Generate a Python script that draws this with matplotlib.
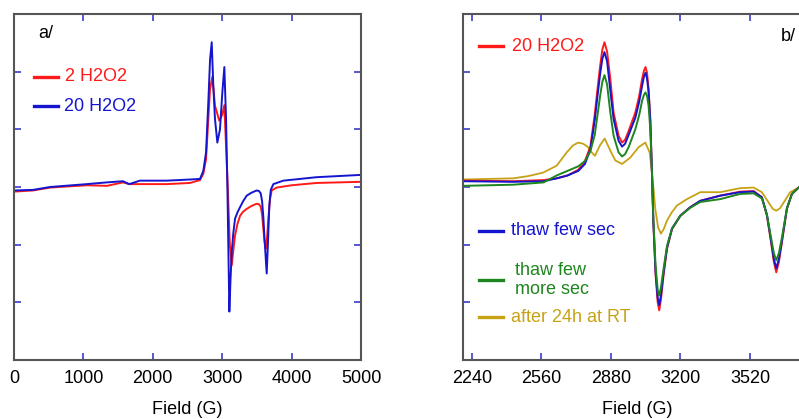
import matplotlib
matplotlib.use('Agg')
import matplotlib.pyplot as plt

plt.rcParams['font.family'] = ['Liberation Sans', 'DejaVu Sans']

# --- panel a/ : 2 vs 20 H2O2 ---
field_a_blue = [0, 275, 520, 1050, 1340, 1570, 1660, 1815, 2200, 2535,
                2680, 2728, 2767, 2800, 2825, 2849, 2872, 2896, 2930, 2968,
                3002, 3031, 3055, 3075, 3103, 3120, 3137, 3160, 3185, 3220,
                3257, 3300, 3353, 3420, 3497, 3530, 3555, 3575, 3593, 3615,
                3641, 3660, 3679, 3700, 3737, 3880, 4360, 5000]
a_20h2o2 = [-0.06, -0.05, 0.0, 0.05, 0.08, 0.10, 0.05, 0.11, 0.11, 0.13,
            0.14, 0.28, 0.60, 1.47, 2.21, 2.51, 1.75, 1.18, 0.77, 1.00,
            1.64, 2.08, 1.20, 0.0, -2.16, -1.60, -1.13, -0.80, -0.55, -0.44,
            -0.35, -0.25, -0.15, -0.10, -0.06, -0.07, -0.11, -0.25, -0.53, -1.00,
            -1.50, -0.95, -0.32, -0.05, 0.05, 0.11, 0.17, 0.21]

field_a_red = [0, 275, 520, 1050, 1340, 1570, 1660, 1815, 2200, 2535,
               2680, 2728, 2767, 2800, 2825, 2858, 2896, 2958, 3000, 3031,
               3055, 3080, 3110, 3137, 3160, 3185, 3220, 3257, 3300, 3353,
               3420, 3497, 3530, 3555, 3575, 3593, 3610, 3631, 3648, 3665,
               3690, 3713, 3785, 4000, 4360, 5000]
a_2h2o2 = [-0.08, -0.06, -0.01, 0.03, 0.02, 0.08, 0.05, 0.05, 0.05, 0.07,
           0.12, 0.23, 0.48, 1.18, 1.70, 1.91, 1.41, 1.15, 1.25, 1.42,
           0.72, 0.0, -1.00, -1.36, -1.10, -0.84, -0.64, -0.50, -0.43, -0.38,
           -0.33, -0.29, -0.30, -0.34, -0.48, -0.73, -0.95, -1.07, -0.85, -0.55,
           -0.20, -0.06, -0.01, 0.03, 0.07, 0.09]

# --- panel b/ : thawing series ---
field_b = [2200, 2430, 2570, 2630, 2680, 2730, 2760, 2785, 2805, 2818,
           2830, 2840, 2850, 2862, 2877, 2892, 2915, 2931, 2945, 2961,
           2992, 3010, 3023, 3032, 3039, 3046, 3053, 3061, 3069, 3075,
           3085, 3095, 3102, 3110, 3122, 3138, 3161, 3199, 3245, 3291,
           3383, 3475, 3537, 3575, 3598, 3617, 3630, 3641, 3653, 3667,
           3690, 3713, 3744, 3800]
b_20h2o2 = [0.11, 0.10, 0.12, 0.15, 0.20, 0.30, 0.45, 0.70, 1.25, 1.70,
            2.10, 2.38, 2.51, 2.35, 1.87, 1.29, 0.89, 0.77, 0.82, 0.97,
            1.29, 1.58, 1.87, 2.02, 2.08, 1.98, 1.70, 1.18, 0.20, -0.60,
            -1.50, -2.00, -2.14, -1.95, -1.53, -1.07, -0.73, -0.50, -0.35, -0.24,
            -0.15, -0.08, -0.07, -0.18, -0.50, -0.96, -1.30, -1.48, -1.30, -0.96,
            -0.38, -0.12, -0.01, 0.05]
b_thaw = [0.10, 0.09, 0.10, 0.15, 0.20, 0.28, 0.40, 0.65, 1.15, 1.58,
          1.96, 2.22, 2.34, 2.18, 1.67, 1.18, 0.80, 0.70, 0.75, 0.90,
          1.20, 1.48, 1.75, 1.92, 1.98, 1.88, 1.65, 1.15, 0.20, -0.60,
          -1.45, -1.92, -2.05, -1.88, -1.48, -1.05, -0.72, -0.50, -0.35, -0.24,
          -0.15, -0.09, -0.08, -0.18, -0.48, -0.93, -1.25, -1.41, -1.25, -0.93,
          -0.37, -0.12, -0.01, 0.05]
b_thaw_more = [0.02, 0.04, 0.08, 0.20, 0.28, 0.36, 0.45, 0.62, 0.90, 1.25,
               1.58, 1.82, 1.94, 1.78, 1.29, 0.89, 0.60, 0.53, 0.57, 0.69,
               1.00, 1.25, 1.49, 1.60, 1.64, 1.58, 1.41, 1.00, 0.20, -0.55,
               -1.35, -1.78, -1.88, -1.74, -1.42, -1.02, -0.72, -0.50, -0.36, -0.26,
               -0.21, -0.12, -0.11, -0.20, -0.48, -0.88, -1.15, -1.27, -1.15, -0.88,
               -0.37, -0.12, -0.01, 0.05]

field_b_rt = [2200, 2430, 2500, 2568, 2630, 2676, 2705, 2729, 2752, 2775,
              2791, 2806, 2829, 2851, 2877, 2900, 2931, 2969, 3007, 3038,
              3058, 3069, 3084, 3097, 3110, 3124, 3138, 3160, 3184, 3230,
              3291, 3383, 3475, 3537, 3575, 3606, 3625, 3641, 3658, 3675,
              3705, 3744, 3800]
b_24h_rt = [0.13, 0.15, 0.19, 0.25, 0.37, 0.60, 0.72, 0.77, 0.75, 0.69,
            0.60, 0.54, 0.72, 0.84, 0.63, 0.46, 0.40, 0.51, 0.69, 0.77,
            0.60, 0.25, -0.38, -0.70, -0.81, -0.72, -0.58, -0.44, -0.32, -0.21,
            -0.09, -0.09, -0.02, -0.01, -0.09, -0.27, -0.38, -0.41, -0.37, -0.27,
            -0.09, -0.01, 0.02]

RED = '#ff1a1a'
BLUE = '#1515d0'
GREEN = '#1e861e'
GOLD = '#c6a214'
FS = 13


def style_axes(ax, xticks):
    ax.set_ylim(-3, 3)
    ax.set_xticks(xticks)
    ax.set_yticks([-2, -1, 0, 1, 2])
    ax.set_yticklabels([])
    ax.tick_params(direction='in', length=5, width=1.3, color='#4a4ad0',
                   top=True, right=True, labelsize=FS, pad=7)
    for s in ax.spines.values():
        s.set_color('#555555')
        s.set_linewidth(1.5)
    ax.set_xlabel('Field (G)', fontsize=FS, labelpad=10)


def key(ax, x0, y, color, label, tx):
    ax.plot([x0, x0 + 0.07], [y, y], color=color, lw=2.4, transform=ax.transAxes,
            clip_on=False)
    ax.text(tx, y, label, color=color, fontsize=FS, va='center', ha='left',
            transform=ax.transAxes)


fig = plt.figure(figsize=(7.99, 4.19), dpi=100)
ax1 = fig.add_axes([14 / 799, 59 / 419, 347 / 799, 346 / 419])
ax2 = fig.add_axes([463.3 / 799, 59 / 419, 347.5 / 799, 346 / 419])

# a/
ax1.plot(field_a_red, a_2h2o2, color=RED, lw=1.4)
ax1.plot(field_a_blue, a_20h2o2, color=BLUE, lw=1.4)
ax1.set_xlim(0, 5000)
style_axes(ax1, [0, 1000, 2000, 3000, 4000, 5000])
ax1.text(0.069, 0.945, 'a/', fontsize=FS, va='center', transform=ax1.transAxes)
key(ax1, 0.058, 0.818, RED, '2 H2O2', 0.147)
key(ax1, 0.058, 0.734, BLUE, '20 H2O2', 0.144)

# b/
ax2.plot(field_b_rt, b_24h_rt, color=GOLD, lw=1.3)
ax2.plot(field_b, b_20h2o2, color=RED, lw=1.4)
ax2.plot(field_b, b_thaw, color=BLUE, lw=1.4)
ax2.plot(field_b, b_thaw_more, color=GREEN, lw=1.4)
ax2.set_xlim(2200, 3800)
style_axes(ax2, [2240, 2560, 2880, 3200, 3520])
ax2.text(0.914, 0.934, 'b/', fontsize=FS, va='center', transform=ax2.transAxes)
key(ax2, 0.045, 0.9075, RED, '20 H2O2', 0.140)
key(ax2, 0.045, 0.373, BLUE, 'thaw few sec', 0.137)
key(ax2, 0.045, 0.231, GREEN, 'thaw few\nmore sec', 0.149)
key(ax2, 0.045, 0.124, GOLD, 'after 24h at RT', 0.137)

fig.savefig('out.png', dpi=100)
